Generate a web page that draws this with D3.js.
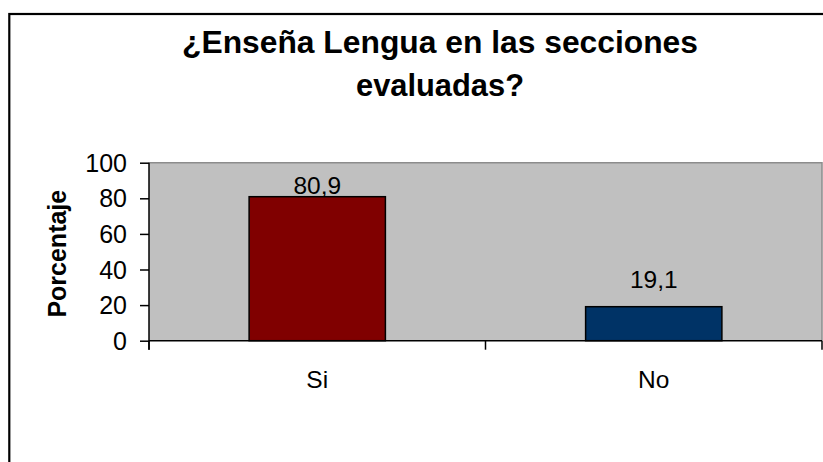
<!DOCTYPE html>
<html>
<head>
<meta charset="utf-8">
<script src="https://cdn.jsdelivr.net/npm/d3@7"></script>
<style>
  body { margin: 0; background: #fff; }
  svg text { font-family: "Liberation Sans", Arial, sans-serif; fill: #000; }
</style>
</head>
<body>
<svg id="chart" width="823" height="462"></svg>
<script>
// chart values
const categories = ["Si", "No"];
const values = [80.9, 19.1];
const valueLabels = ["80,9", "19,1"];
const yTicks = [0, 20, 40, 60, 80, 100];
const titleLines = ["¿Enseña Lengua en las secciones", "evaluadas?"];

// bar colours, one per category
const colors = ["#800000", "#003366"];
// distance from bar top to label baseline (labels were placed by hand in the original)
const labelGap = [3, 19];

const svg = d3.select("#chart");

// plot area
const plot = {left: 149, right: 822, top: 162.7, bottom: 340.7};

// outer frame, runs off the right and bottom of the picture
svg.append("rect")
    .attr("x", 9.3).attr("y", 14)
    .attr("width", 900).attr("height", 600)
    .style("fill", "none")
    .style("stroke", "#000")
    .style("stroke-width", 2.2);

// title
const titleWidths = [516, 168];
svg.selectAll(".title")
    .data(titleLines)
    .enter().append("text")
    .attr("class", "title")
    .attr("x", 440)
    .attr("y", (d, i) => 53.3 + i * 42.7)
    .attr("text-anchor", "middle")
    .attr("textLength", (d, i) => titleWidths[i])
    .attr("lengthAdjust", "spacingAndGlyphs")
    .style("font-size", "31px")
    .style("font-weight", "bold")
    .text(d => d);

let x = d3.scaleBand()
    .domain(categories)
    .range([plot.left, plot.right])
    .paddingInner(0.595)
    .paddingOuter(0.2975);

let y = d3.scaleLinear()
    .domain([0, 100])
    .range([plot.bottom, plot.top]);

// grey plot background
svg.append("rect")
    .attr("x", plot.left).attr("y", plot.top)
    .attr("width", plot.right - plot.left)
    .attr("height", plot.bottom - plot.top)
    .style("fill", "#c0c0c0");

// thin grey border along the top and right of the plot
svg.append("path")
    .attr("d", "M" + plot.left + "," + plot.top + "H" + plot.right + "V" + plot.bottom)
    .style("fill", "none")
    .style("stroke", "#8c8c8c")
    .style("stroke-width", 1.5);

// bars
svg.selectAll(".bar")
    .data(values)
    .enter().append("rect")
    .attr("class", "bar")
    .attr("x", (d, i) => x(categories[i]))
    .attr("y", d => y(d))
    .attr("width", x.bandwidth())
    .attr("height", d => y(0) - y(d))
    .style("fill", (d, i) => colors[i])
    .style("stroke", "#000")
    .style("stroke-width", 1.5);

// value labels above the bars
svg.selectAll(".vlabel")
    .data(values)
    .enter().append("text")
    .attr("class", "vlabel")
    .attr("x", (d, i) => x(categories[i]) + x.bandwidth() / 2)
    .attr("y", (d, i) => y(d) - labelGap[i])
    .attr("text-anchor", "middle")
    .style("font-size", "24.5px")
    .text((d, i) => valueLabels[i]);

// y axis
let yAxis = svg.append("g")
    .attr("transform", "translate(" + plot.left + ",0)")
    .call(d3.axisLeft(y).tickValues(yTicks).tickSize(9).tickPadding(13).tickFormat(d3.format("d")));
yAxis.select(".domain").style("stroke", "#000").style("stroke-width", 1.5).attr("d", "M0," + plot.top + "V" + (plot.bottom + 9));
yAxis.selectAll(".tick line").style("stroke", "#000").style("stroke-width", 1.5);
yAxis.selectAll(".tick text")
    .attr("dy", "0.34em")
    .style("font-size", "25px")
    .style("font-family", "'Liberation Sans', Arial, sans-serif")
    .style("fill", "#000");

// x axis: line with ticks on the category boundaries
const boundaries = [plot.left, (plot.left + plot.right) / 2, plot.right];
svg.append("line")
    .attr("x1", plot.left).attr("x2", plot.right)
    .attr("y1", plot.bottom).attr("y2", plot.bottom)
    .style("stroke", "#000")
    .style("stroke-width", 1.5);
svg.selectAll(".xtick")
    .data(boundaries)
    .enter().append("line")
    .attr("class", "xtick")
    .attr("x1", d => d).attr("x2", d => d)
    .attr("y1", plot.bottom).attr("y2", plot.bottom + 9)
    .style("stroke", "#000")
    .style("stroke-width", 1.5);

// category labels
svg.selectAll(".xlabel")
    .data(categories)
    .enter().append("text")
    .attr("class", "xlabel")
    .attr("x", d => x(d) + x.bandwidth() / 2)
    .attr("y", 387.5)
    .attr("text-anchor", "middle")
    .style("font-size", "24.5px")
    .text(d => d);

// y axis title
svg.append("text")
    .attr("transform", "translate(66," + ((plot.top + plot.bottom) / 2 + 2) + ") rotate(-90)")
    .attr("text-anchor", "middle")
    .style("font-size", "25px")
    .style("font-weight", "bold")
    .text("Porcentaje");
</script>
</body>
</html>
